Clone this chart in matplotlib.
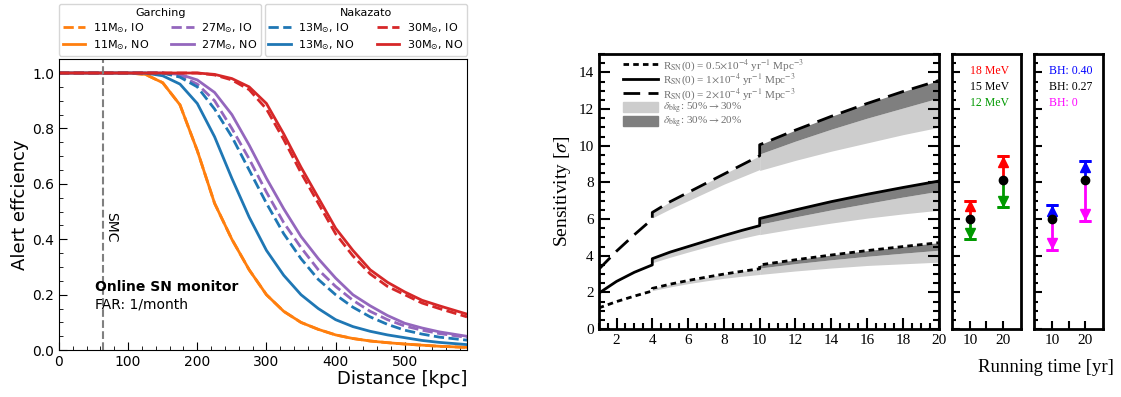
import numpy as np
import matplotlib.pyplot as plt
from matplotlib.lines import Line2D
from matplotlib.patches import Patch
from matplotlib.font_manager import FontProperties

# ---------------- left: alert efficiency vs distance ----------------
dist = [0, 100, 125, 150, 175, 200, 225, 250, 275, 300, 325, 350, 375, 400,
        425, 450, 475, 500, 525, 550, 590]
eff_11_no = [1, 1, 0.995, 0.965, 0.885, 0.72, 0.53, 0.40, 0.29, 0.20, 0.14, 0.10,
             0.075, 0.055, 0.042, 0.033, 0.027, 0.022, 0.018, 0.014, 0.01]
eff_11_io = eff_11_no
eff_13_no = [1, 1, 1, 0.99, 0.96, 0.89, 0.77, 0.62, 0.48, 0.36, 0.27, 0.20,
             0.15, 0.11, 0.085, 0.068, 0.055, 0.045, 0.035, 0.028, 0.02]
eff_13_io = [1, 1, 1, 1, 0.985, 0.95, 0.87, 0.77, 0.65, 0.53, 0.42, 0.33,
             0.255, 0.2, 0.155, 0.12, 0.093, 0.072, 0.058, 0.047, 0.036]
eff_27_no = [1, 1, 1, 1, 0.995, 0.975, 0.93, 0.85, 0.74, 0.62, 0.51, 0.41,
             0.33, 0.26, 0.2, 0.16, 0.125, 0.097, 0.08, 0.066, 0.05]
eff_27_io = [1, 1, 1, 1, 0.99, 0.96, 0.90, 0.80, 0.69, 0.57, 0.46, 0.37,
             0.29, 0.23, 0.18, 0.14, 0.11, 0.087, 0.072, 0.06, 0.046]
eff_30_no = [1, 1, 1, 1, 1, 1, 0.995, 0.98, 0.95, 0.89, 0.78, 0.66, 0.55,
             0.44, 0.36, 0.29, 0.245, 0.21, 0.18, 0.16, 0.13]
eff_30_io = [1, 1, 1, 1, 1, 1, 0.993, 0.975, 0.94, 0.87, 0.76, 0.64, 0.53,
             0.42, 0.34, 0.275, 0.23, 0.2, 0.17, 0.15, 0.12]
smc_dist = 64

# ---------------- right: sensitivity vs running time ----------------
t_a = [1, 2, 3, 4]
t_b = [4, 5, 6, 7, 8, 9, 10]
t_c = [10, 12, 14, 16, 18, 20]

r05_a = [1.15, 1.5, 1.8, 2.08]
r05_b = [2.22, 2.45, 2.65, 2.83, 3.0, 3.15, 3.29]
r05_b_light = [2.1, 2.3, 2.48, 2.63, 2.77, 2.88, 2.98]
r05_c = [3.5, 3.78, 4.04, 4.28, 4.5, 4.71]
r05_c_dark = [3.33, 3.57, 3.78, 3.97, 4.14, 4.3]
r05_c_light = [2.98, 3.17, 3.33, 3.47, 3.56, 3.65]

r1_a = [1.95, 2.6, 3.1, 3.5]
r1_b = [3.84, 4.2, 4.5, 4.8, 5.1, 5.38, 5.64]
r1_b_light = [3.62, 3.92, 4.2, 4.47, 4.72, 4.95, 5.17]
r1_c = [6.03, 6.5, 6.95, 7.35, 7.72, 8.07]
r1_c_dark = [5.72, 6.12, 6.5, 6.85, 7.2, 7.52]
r1_c_light = [5.15, 5.48, 5.78, 6.05, 6.28, 6.48]

r2_a = [3.25, 4.25, 5.15, 6.0]
r2_b = [6.36, 6.95, 7.45, 7.95, 8.45, 8.95, 9.45]
r2_b_light = [6.06, 6.55, 7.0, 7.45, 7.9, 8.3, 8.7]
r2_c = [10.05, 10.85, 11.6, 12.3, 12.95, 13.55]
r2_c_dark = [9.55, 10.25, 10.9, 11.5, 12.05, 12.6]
r2_c_light = [8.65, 9.2, 9.7, 10.15, 10.6, 11.0]

years = [10, 20]
sens_mid = [6.0, 8.13]
e18_cap = [7.0, 9.45]
e18_tip = [6.7, 9.12]
e12_cap = [4.9, 6.65]
e12_tip = [5.25, 7.0]
bh40_cap = [6.75, 9.15]
bh40_tip = [6.45, 8.85]
bh0_cap = [4.33, 5.9]
bh0_tip = [4.7, 6.25]

fig = plt.figure(figsize=(11.21, 3.97), dpi=100)

# ======================= left panel =======================
ax = fig.add_axes([0.0526, 0.118, 0.364, 0.733])
ax.plot(dist, eff_11_io, color='tab:orange', ls='--', lw=2)
ax.plot(dist, eff_11_no, color='tab:orange', lw=2)
ax.plot(dist, eff_27_io, color='tab:purple', ls='--', lw=2)
ax.plot(dist, eff_27_no, color='tab:purple', lw=2)
ax.plot(dist, eff_13_io, color='tab:blue', ls='--', lw=2)
ax.plot(dist, eff_13_no, color='tab:blue', lw=2)
ax.plot(dist, eff_30_io, color='tab:red', ls='--', lw=2)
ax.plot(dist, eff_30_no, color='tab:red', lw=2)
ax.axvline(smc_dist, color='gray', ls='--', lw=1.5)
ax.text(smc_dist + 12, 0.445, 'SMC', rotation=270, fontsize=10,
        ha='center', va='center')
ax.text(52, 0.228, 'Online SN monitor', fontsize=10, fontweight='bold',
        va='center')
ax.text(52, 0.166, 'FAR: 1/month', fontsize=10, va='center')
ax.set_xlim(0, 590)
ax.set_ylim(0, 1.05)
ax.set_xticks([0, 100, 200, 300, 400, 500])
ax.set_yticks([0, 0.2, 0.4, 0.6, 0.8, 1.0])
ax.set_xticks(np.arange(0, 591, 20), minor=True)
ax.set_yticks(np.arange(0, 1.05, 0.05), minor=True)
ax.tick_params(which='both', direction='in', labelsize=10)
ax.tick_params(which='major', length=6)
ax.tick_params(which='minor', length=3)
ax.set_ylabel('Alert effciency', fontsize=13, labelpad=2)
ax.set_xlabel('Distance [kpc]', fontsize=13, loc='right', labelpad=1)

def mlabel(m, o):
    return r'%dM$_{\odot}$, %s' % (m, o)

g_handles = [Line2D([], [], color='tab:orange', ls='--', lw=2),
             Line2D([], [], color='tab:orange', lw=2),
             Line2D([], [], color='tab:purple', ls='--', lw=2),
             Line2D([], [], color='tab:purple', lw=2)]
g_labels = [mlabel(11, 'IO'), mlabel(11, 'NO'), mlabel(27, 'IO'), mlabel(27, 'NO')]
n_handles = [Line2D([], [], color='tab:blue', ls='--', lw=2),
             Line2D([], [], color='tab:blue', lw=2),
             Line2D([], [], color='tab:red', ls='--', lw=2),
             Line2D([], [], color='tab:red', lw=2)]
n_labels = [mlabel(13, 'IO'), mlabel(13, 'NO'), mlabel(30, 'IO'), mlabel(30, 'NO')]
leg_kw = dict(ncol=2, fontsize=8, title_fontsize=8, borderaxespad=0,
              columnspacing=2.0, handlelength=2.0, handletextpad=0.7,
              labelspacing=0.3, borderpad=0.35)
leg1 = ax.legend(g_handles, g_labels, title='Garching', loc='lower left',
                 bbox_to_anchor=(0.0, 1.012), **leg_kw)
ax.add_artist(leg1)
ax.legend(n_handles, n_labels, title='Nakazato', loc='lower right',
          bbox_to_anchor=(1.0, 1.012), **leg_kw)

# ======================= right main panel =======================
serif = 'Liberation Serif'
light = '#cdcdcd'
dark = '#7f7f7f'
long_dash = (6, 3)
short_dash = (2, 1.5)

ax2 = fig.add_axes([0.534, 0.171, 0.3033, 0.693])
for lo, hi, xs, col in [(r05_b_light, r05_b, t_b, light),
                        (r1_b_light, r1_b, t_b, light),
                        (r2_b_light, r2_b, t_b, light),
                        (r05_c_light, r05_c_dark, t_c, light),
                        (r1_c_light, r1_c_dark, t_c, light),
                        (r2_c_light, r2_c_dark, t_c, light),
                        (r05_c_dark, r05_c, t_c, dark),
                        (r1_c_dark, r1_c, t_c, dark),
                        (r2_c_dark, r2_c, t_c, dark)]:
    ax2.fill_between(xs, lo, hi, color=col, lw=0)

t_all = t_a + t_b + t_c
ax2.plot(t_all, r05_a + r05_b + r05_c, color='black', lw=2, dashes=short_dash)
ax2.plot(t_all, r1_a + r1_b + r1_c, color='black', lw=2)
ax2.plot(t_all, r2_a + r2_b + r2_c, color='black', lw=2, dashes=long_dash)

ax2.set_xlim(1, 20)
ax2.set_ylim(0, 15)
ax2.set_xticks(np.arange(2, 21, 2))
ax2.set_xticks(np.arange(1, 20.1, 0.5), minor=True)
ax2.set_yticks(np.arange(0, 15, 2))
ax2.set_yticks(np.arange(0, 15.1, 0.5), minor=True)
ax2.tick_params(which='both', direction='in', left=True, right=True,
                width=1.5, labelsize=11)
ax2.tick_params(which='major', length=8)
ax2.tick_params(which='minor', length=4)
for lab in ax2.get_xticklabels() + ax2.get_yticklabels():
    lab.set_fontfamily(serif)
for s in ax2.spines.values():
    s.set_linewidth(2)
ax2.set_ylabel(r'Sensitivity [$\sigma$]', fontsize=14, family=serif,
               math_fontfamily='stix', labelpad=4)

leg_font = FontProperties(family=serif, size=8, math_fontfamily='stix')
r_handles = [Line2D([], [], color='black', lw=2, dashes=short_dash),
             Line2D([], [], color='black', lw=2),
             Line2D([], [], color='black', lw=2, dashes=long_dash),
             Patch(color=light), Patch(color=dark)]
r_labels = [r'R$_{\rm SN}$(0) = 0.5$\times$10$^{-4}$ yr$^{-1}$ Mpc$^{-3}$',
            r'R$_{\rm SN}$(0) = 1$\times$10$^{-4}$ yr$^{-1}$ Mpc$^{-3}$',
            r'R$_{\rm SN}$(0) = 2$\times$10$^{-4}$ yr$^{-1}$ Mpc$^{-3}$',
            r'$\delta_{\rm bkg}$: 50%$\rightarrow$30%',
            r'$\delta_{\rm bkg}$: 30%$\rightarrow$20%']
leg3 = ax2.legend(r_handles, r_labels, loc='upper left', frameon=False,
                  prop=leg_font, handlelength=3.15, labelspacing=-0.1,
                  borderaxespad=0.1, bbox_to_anchor=(0.055, 1.01),
                  handletextpad=0.45, handleheight=0.9)
for txt in leg3.get_texts():
    txt.set_color('#707070')

# ======================= small panels =======================
def small_panel(left, up_cap, up_tip, up_col, dn_cap, dn_tip, dn_col):
    a = fig.add_axes([left, 0.171, 0.0616, 0.693])
    for i in range(len(years)):
        a.plot([years[i], years[i]], [sens_mid[i], up_cap[i]], color=up_col, lw=2)
        a.plot([years[i], years[i]], [sens_mid[i], dn_cap[i]], color=dn_col, lw=2)
    a.errorbar(years, up_cap, yerr=0, fmt='none', ecolor=up_col, capsize=4,
               capthick=2)
    a.errorbar(years, dn_cap, yerr=0, fmt='none', ecolor=dn_col, capsize=4,
               capthick=2)
    a.plot(years, up_tip, ls='none', marker='^', ms=7, color=up_col)
    a.plot(years, dn_tip, ls='none', marker='v', ms=7, color=dn_col)
    a.plot(years, sens_mid, ls='none', marker='o', ms=6, color='black')
    a.set_xlim(4.5, 25.5)
    a.set_ylim(0, 15)
    a.set_xticks([10, 20])
    a.set_xticks([15], minor=True)
    a.set_yticks(np.arange(0, 15, 2))
    a.set_yticks(np.arange(0, 15.1, 0.5), minor=True)
    a.set_yticklabels([])
    a.tick_params(which='both', direction='in', width=1.5, labelsize=11)
    a.tick_params(which='major', length=6)
    a.tick_params(which='minor', length=3)
    a.tick_params(axis='x', which='minor', length=6)
    for lab in a.get_xticklabels():
        lab.set_fontfamily(serif)
    for s in a.spines.values():
        s.set_linewidth(2)
    return a

ax3 = small_panel(0.849, e18_cap, e18_tip, '#ff0000', e12_cap, e12_tip, '#009900')
ax3.text(10, 14.08, '18 MeV', color='#ff0000', fontsize=8.5, family=serif, va='center')
ax3.text(10, 13.2, '15 MeV', color='black', fontsize=8.5, family=serif, va='center')
ax3.text(10, 12.33, '12 MeV', color='#009900', fontsize=8.5, family=serif, va='center')

ax4 = small_panel(0.9224, bh40_cap, bh40_tip, '#0000ff', bh0_cap, bh0_tip, '#ff00ff')
ax4.text(9.1, 14.08, 'BH: 0.40', color='#0000ff', fontsize=8.5, family=serif, va='center')
ax4.text(9.1, 13.2, 'BH: 0.27', color='black', fontsize=8.5, family=serif, va='center')
ax4.text(9.1, 12.33, 'BH: 0', color='#ff00ff', fontsize=8.5, family=serif, va='center')

fig.text(0.933, 0.075, 'Running time [yr]', fontsize=13.5, family=serif,
         ha='center', va='center')

fig.savefig('out.png', dpi=100)
